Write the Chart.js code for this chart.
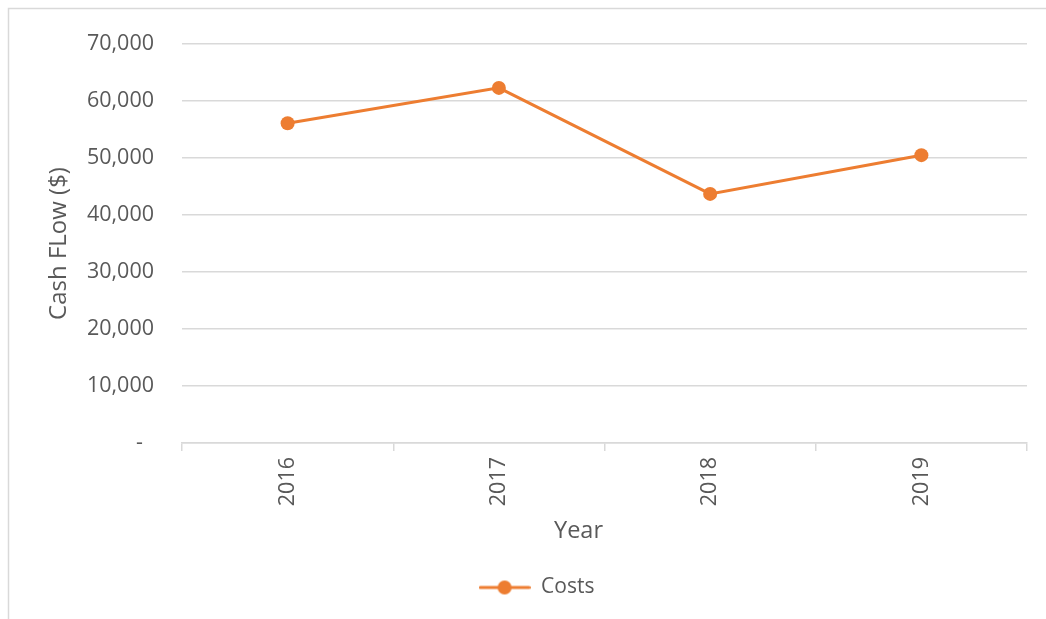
<!DOCTYPE html>
<html>
<head>
<meta charset="utf-8">
<script src="https://cdn.jsdelivr.net/npm/chart.js@4/dist/chart.umd.min.js"></script>
<style>
  html, body { margin: 0; padding: 0; background: #ffffff; }
  #wrap { position: relative; width: 1046px; height: 619px; }
</style>
</head>
<body>
<div id="wrap"><canvas id="c" width="1046" height="619"></canvas></div>
<script>
// ---- data ----
const years = ["2016", "2017", "2018", "2019"];
const costs = [56100, 62300, 43700, 50500];
const seriesName = "Costs";
const yAxisTitle = "Cash FLow ($)";
const xAxisTitle = "Year";
const yMin = 0, yMax = 70000, yStep = 10000;

const ORANGE = "#ED7D31";
const GRID = "#d9d9d9";
const TEXT = "#595959";

Chart.defaults.font.family = "'Open Sans', 'Noto Sans', sans-serif";
Chart.defaults.color = TEXT;

// legend marker: line with circle
const marker = document.createElement("canvas");
marker.width = 52; marker.height = 16;
(function () {
  const g = marker.getContext("2d");
  g.strokeStyle = ORANGE; g.lineWidth = 3; g.lineCap = "round";
  g.beginPath(); g.moveTo(1.5, 8); g.lineTo(50.5, 8); g.stroke();
  g.fillStyle = ORANGE;
  g.beginPath(); g.arc(26, 8, 7, 0, Math.PI * 2); g.fill();
})();

const frame = {
  id: "frame",
  beforeDraw(chart) {
    const ctx = chart.ctx;
    ctx.save();
    ctx.strokeStyle = GRID;
    ctx.lineWidth = 1.5;
    ctx.strokeRect(8.5, 8.5, 1100, 700);
    ctx.restore();
    const xs = chart.scales.x;
    if (xs && !xs._titleShifted) {
      const orig = xs.drawTitle;
      xs.drawTitle = function () {
        this.ctx.save();
        this.ctx.translate(-26, 0);
        orig.call(this);
        this.ctx.restore();
      };
      xs._titleShifted = true;
    }
  },
  afterLayout(chart) {
    if (chart.legend) { chart.legend.left += 19; chart.legend.right += 19; }
  }
};

new Chart(document.getElementById("c"), {
  type: "line",
  data: {
    labels: years,
    datasets: [{
      label: seriesName,
      data: costs,
      borderColor: ORANGE,
      backgroundColor: ORANGE,
      borderWidth: 3,
      pointRadius: 7,
      pointHoverRadius: 7,
      pointBackgroundColor: ORANGE,
      pointBorderWidth: 0,
      tension: 0,
      fill: false
    }]
  },
  options: {
    responsive: false,
    animation: false,
    devicePixelRatio: 1,
    layout: { padding: { left: 8, right: 19, top: 44, bottom: 11 } },
    plugins: {
      tooltip: { enabled: false },
      legend: {
        position: "bottom",
        labels: {
          usePointStyle: true,
          pointStyleWidth: 52,
          color: TEXT,
          font: { size: 21 },
          padding: 10,
          generateLabels(chart) {
            return chart.data.datasets.map((ds, i) => ({
              text: ds.label,
              pointStyle: marker,
              fillStyle: ORANGE,
              strokeStyle: ORANGE,
              lineWidth: 0,
              fontColor: TEXT,
              hidden: false,
              datasetIndex: i
            }));
          }
        }
      }
    },
    scales: {
      x: {
        type: "category",
        offset: true,
        grid: {
          display: true,
          drawOnChartArea: false,
          drawTicks: true,
          tickLength: 8,
          color: GRID,
          lineWidth: 1.5,
          offset: true
        },
        border: { display: true, color: GRID, width: 1.5 },
        ticks: {
          color: TEXT,
          font: { size: 21.5 },
          maxRotation: 90,
          minRotation: 90,
          padding: 6
        },
        title: {
          display: true,
          text: xAxisTitle,
          color: TEXT,
          font: { size: 23.5 },
          padding: { top: 0, bottom: 22 }
        },
        afterFit(scale) { scale.height = 124; }
      },
      y: {
        min: yMin,
        max: yMax,
        grid: {
          color: GRID,
          lineWidth: 1.5,
          drawTicks: false
        },
        border: { display: false },
        ticks: {
          stepSize: yStep,
          color: TEXT,
          font: { size: 21.5 },
          padding: 28,
          callback(v) { return v === 0 ? "-  " : v.toLocaleString("en-US"); }
        },
        title: {
          display: true,
          text: yAxisTitle,
          color: TEXT,
          font: { size: 24 },
          padding: { top: 37, bottom: 0 }
        },
        afterFit(scale) { scale.width = 174; }
      }
    }
  },
  plugins: [frame]
});
</script>
</body>
</html>
